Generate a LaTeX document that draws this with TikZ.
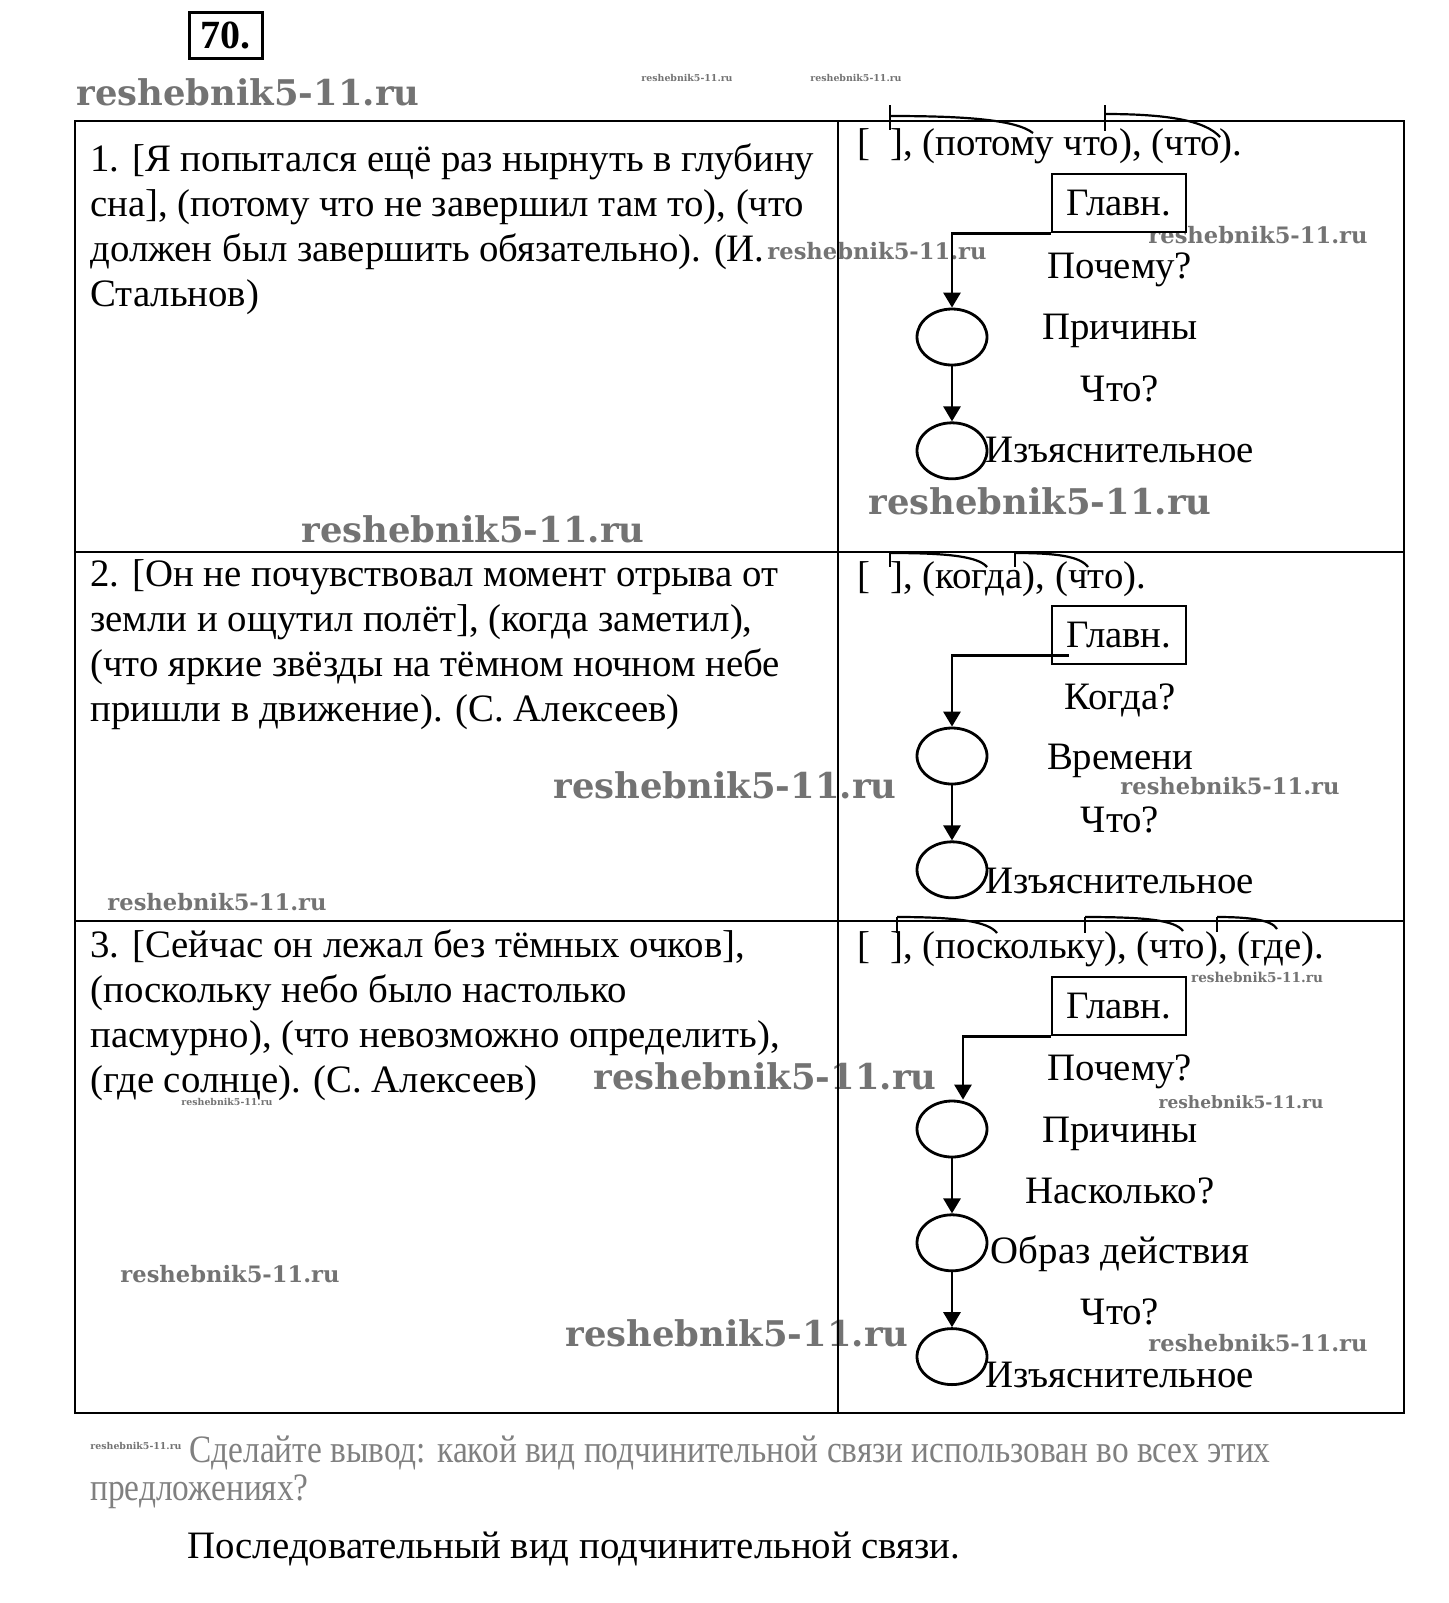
\documentclass[tikz,border=0pt]{standalone}
\usepackage{graphicx}
\usepackage{fontspec}
\setmainfont{Liberation Serif}
\newfontfamily\wmfont{DejaVu Serif}
\usetikzlibrary{arrows.meta, positioning, shapes.geometric}
\newcommand{\cellfont}{\fontsize{19.4}{22.5}\selectfont}

\begin{document}
\begin{tikzpicture}[
  x=0.5pt, y=-0.5pt,
  grid/.style    = {line width=1.2pt},
  sent/.style    = {anchor=north west, align=left, inner sep=0pt, font=\cellfont},
  lab/.style     = {anchor=base, inner sep=0pt, font=\cellfont},
  mainbox/.style = {draw, line width=1.4pt, minimum width=67pt, minimum height=29pt,
                    inner sep=0pt, font=\cellfont},
  clause/.style  = {ellipse, draw, line width=1.4pt, minimum width=35pt,
                    minimum height=28pt, inner sep=0pt},
  link/.style    = {line width=1.4pt, -{Triangle[length=7.5pt, width=8.5pt]}},
  tie/.style     = {line width=1.1pt},
  wm/.style      = {inner sep=0pt, text=black!55,
                    font=\wmfont\bfseries\fontsize{#1}{#1}\selectfont},
  node distance = 27.5pt
]
\useasboundingbox (0,0) rectangle (1448,1603);

% watermarks
\node[wm=17.7] (wm1)  at (248,92)   {reshebnik5-11.ru};
\node[wm=4.7]  (wm2)  at (687,78)   {reshebnik5-11.ru};
\node[wm=4.7]  (wm3)  at (856,78)   {reshebnik5-11.ru};
\node[wm=11.3] (wm4)  at (877,251)  {reshebnik5-11.ru};
\node[wm=11.3] (wm5)  at (1258,235) {reshebnik5-11.ru};
\node[wm=17.7] (wm6)  at (1040,501) {reshebnik5-11.ru};
\node[wm=17.7] (wm7)  at (473,529)  {reshebnik5-11.ru};
\node[wm=17.7] (wm8)  at (725,785)  {reshebnik5-11.ru};
\node[wm=11.3] (wm9)  at (1230,786) {reshebnik5-11.ru};
\node[wm=11.3] (wm10) at (217,902)  {reshebnik5-11.ru};
\node[wm=6.8]  (wm11) at (1257,977) {reshebnik5-11.ru};
\node[wm=17.7] (wm12) at (765,1076) {reshebnik5-11.ru};
\node[wm=4.7]  (wm13) at (227,1102) {reshebnik5-11.ru};
\node[wm=8.5]  (wm14) at (1241,1102) {reshebnik5-11.ru};
\node[wm=11.3] (wm15) at (230,1274) {reshebnik5-11.ru};
\node[wm=17.7] (wm16) at (737,1333) {reshebnik5-11.ru};
\node[wm=11.3] (wm17) at (1258,1343) {reshebnik5-11.ru};
\node[wm=4.7]  (wm18) at (136,1446) {reshebnik5-11.ru};

% task number
\node[draw, line width=1.5pt, minimum width=36.5pt, minimum height=23pt, inner sep=0pt,
      font=\bfseries\fontsize{20}{20}\selectfont] (num) at (225.5,35) {70.};

% table
\draw[grid] (75,121) rectangle (1404,1413);
\draw[grid] (75,552) -- (1404,552);
\draw[grid] (75,921) -- (1404,921);
\draw[grid] (838,121) -- (838,1413);

% sentences
\node[sent] (s1) at (90,143)
  {1. [Я попытался ещё раз нырнуть в глубину\\
   сна], (потому что не завершил там то), (что\\
   должен был завершить обязательно). (И.\\
   Стальнов)};
\node[sent] (s2) at (90,559)
  {2. [Он не почувствовал момент отрыва от\\
   земли и ощутил полёт], (когда заметил),\\
   (что яркие звёзды на тёмном ночном небе\\
   пришли в движение). (С. Алексеев)};
\node[sent] (s3) at (90,929)
  {3. [Сейчас он лежал без тёмных очков],\\
   (поскольку небо было настолько\\
   пасмурно), (что невозможно определить),\\
   (где солнце). (С. Алексеев)};

% scheme 1
\node[lab, anchor=base west] (f1) at (857,155) {[\hspace{10pt}], (потому что), (что).};
\draw[tie] (890,105) -- (890,130);
\draw[tie] (890,116) .. controls (960,116) and (1015,119) .. (1033,133);
\draw[tie] (1105,105) -- (1105,131);
\draw[tie] (1105,114) .. controls (1165,114) and (1205,120) .. (1220,137);

\node[mainbox] (m1) at (1119,203) {Главн.};
\node[clause] (c11) at (952,337) {};
\node[clause, below=of c11] (c12) {};
\draw[link] (m1.south west) -| (c11.north);
\draw[link] (c11) -- (c12);
\node[lab] (q11) at (1120,278) {Почему?};
\node[lab] (t11) at (1120,339) {Причины};
\node[lab] (q12) at (1120,401) {Что?};
\node[lab] (t12) at (1120,462) {Изъяснительное};

% scheme 2
\node[lab, anchor=base west] (f2) at (857,588) {[\hspace{10pt}], (когда), (что).};
\draw[tie] (890,552) -- (890,567);
\draw[tie] (890,553) .. controls (945,553) and (978,556) .. (987,567);
\draw[tie] (1015,552) -- (1015,567);
\draw[tie] (1015,553) .. controls (1055,553) and (1080,556) .. (1088,567);

\node[mainbox] (m2) at (1119,635) {Главн.};
\node[clause] (c21) at (952,756) {};
\node[clause, below=of c21] (c22) {};
\draw[link] ([xshift=9pt,yshift=5pt]m2.south west) -| (c21.north);
\draw[link] (c21) -- (c22);
\node[lab] (q21) at (1120,709) {Когда?};
\node[lab] (t21) at (1120,769) {Времени};
\node[lab] (q22) at (1120,832) {Что?};
\node[lab] (t22) at (1120,893) {Изъяснительное};

% scheme 3
\node[lab, anchor=base west] (f3) at (857,958) {[\hspace{10pt}], (поскольку), (что), (где).};
\draw[tie] (897,917) -- (897,933);
\draw[tie] (897,917) .. controls (955,917) and (988,921) .. (997,933);
\draw[tie] (1085,917) -- (1085,933);
\draw[tie] (1085,917) .. controls (1145,917) and (1175,920) .. (1183,931);
\draw[tie] (1217,917) -- (1217,932);
\draw[tie] (1217,917) .. controls (1250,917) and (1272,920) .. (1277,929);

\node[mainbox] (m3) at (1119,1006) {Главн.};
\node[clause] (c31) at (952,1129) {};
\node[clause, below=of c31] (c32) {};
\node[clause, below=of c32] (c33) {};
\draw[link] (m3.south west) -| ([xshift=5.5pt]c31.north);
\draw[link] (c31) -- (c32);
\draw[link] (c32) -- (c33);
\node[lab] (q31) at (1120,1080) {Почему?};
\node[lab] (t31) at (1120,1142) {Причины};
\node[lab] (q32) at (1120,1203) {Насколько?};
\node[lab] (t32) at (1120,1263) {Образ действия};
\node[lab] (q33) at (1120,1324) {Что?};
\node[lab] (t33) at (1120,1387) {Изъяснительное};

% question and answer
\node[lab, anchor=base west, text=black!50] (ask1) at (189,1462)
  {\scalebox{0.86}[1]{Сделайте вывод: какой вид подчинительной связи использован во всех этих}};
\node[lab, anchor=base west, text=black!50] (ask2) at (90,1500)
  {\scalebox{0.86}[1]{предложениях?}};
\node[lab, anchor=base west] (answer) at (187,1558)
  {Последовательный вид подчинительной связи.};
\end{tikzpicture}
\end{document}
